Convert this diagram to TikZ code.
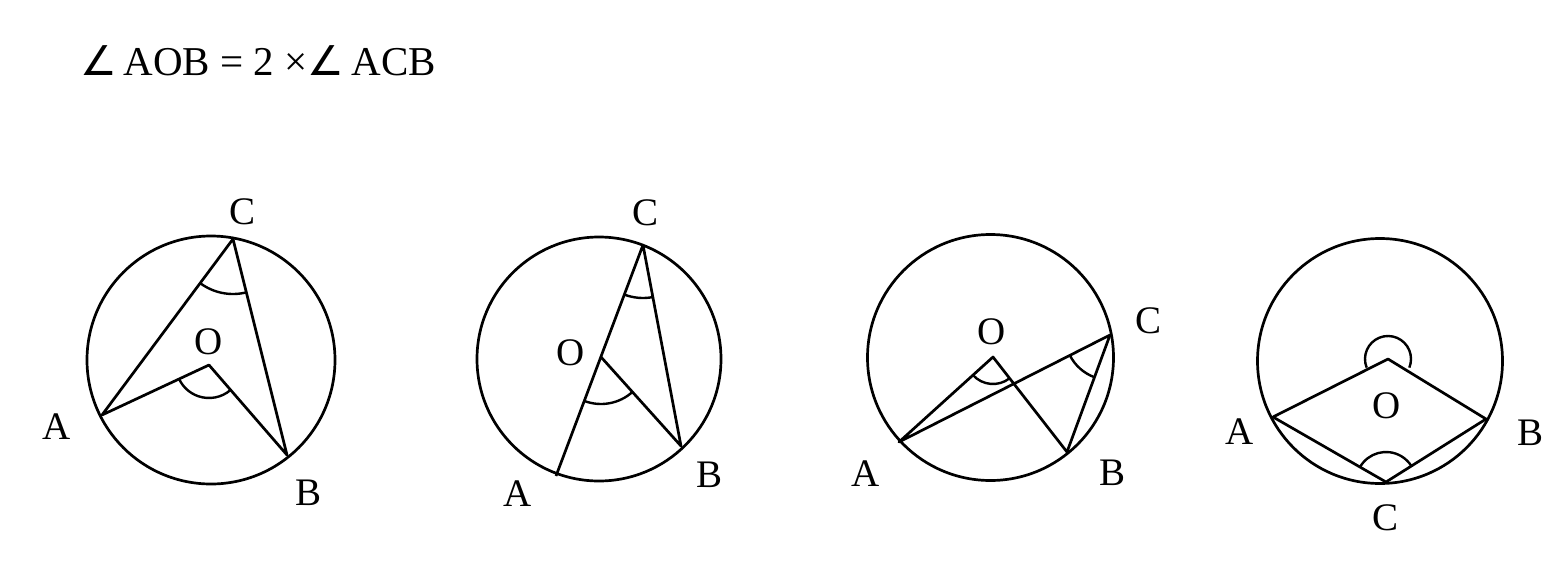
\documentclass[tikz,border=0pt]{standalone}
\usepackage{fontspec}
\setmainfont{Liberation Serif}
\newfontfamily\symfont{DejaVu Sans}
\begin{document}
\begin{tikzpicture}[x=1pt,y=-1pt,
  geo/.style={line width=2.7pt,line join=round},
  anglearc/.style={line width=2.4pt},
  lbl/.style={inner sep=0pt,font=\fontsize{39}{42}\selectfont}]
\useasboundingbox (0,0) rectangle (1567,563);
% title
\node[anchor=base west,inner sep=0pt,font=\fontsize{41}{45}\selectfont] (title) at (80,75)
  {{\symfont ∠}\,AOB = 2 ×{\symfont ∠}\,ACB};
% ---- figure 1
\coordinate (K1) at (211,360);
\coordinate (A1) at (102,415);
\coordinate (B1) at (287,455);
\coordinate (C1) at (233,239);
\coordinate (O1) at (209,365);
\draw[geo] (K1) circle[radius=124];
\draw[geo] (A1) -- (C1) -- (B1) -- (O1) -- cycle;
\draw[anglearc] ([shift={(76:55)}]C1) arc[start angle=76, end angle=126.7, radius=55];
\draw[anglearc] ([shift={(49.1:33)}]O1) arc[start angle=49.1, end angle=154.9, radius=33];
\node[lbl] (lC1) at (243,212) {C};
\node[lbl] (lO1) at (209,342) {O};
\node[lbl] (lA1) at (57,427) {A};
\node[lbl] (lB1) at (309,493) {B};
% ---- figure 2
\coordinate (K2) at (599,359);
\coordinate (A2) at (556,476);
\coordinate (B2) at (681,446);
\coordinate (C2) at (643,245);
\coordinate (O2) at (601,357);
\draw[geo] (K2) circle[radius=122];
\draw[geo] (A2) -- (C2) -- (B2) -- (O2);
\draw[anglearc] ([shift={(79.3:53)}]C2) arc[start angle=79.3, end angle=110.6, radius=53];
\draw[anglearc] ([shift={(48:47)}]O2) arc[start angle=48, end angle=110.7, radius=47];
\node[lbl] (lC2) at (645,213) {C};
\node[lbl] (lO2) at (571,353) {O};
\node[lbl] (lA2) at (518,494) {A};
\node[lbl] (lB2) at (709,475) {B};
% ---- figure 3
\coordinate (K3) at (990.5,357.5);
\coordinate (A3) at (899,442);
\coordinate (B3) at (1067,452);
\coordinate (C3) at (1110,335);
\coordinate (O3) at (993,357);
\draw[geo] (K3) circle[radius=123];
\draw[geo] (A3) -- (O3) -- (B3) -- (C3) -- cycle;
\draw[anglearc] ([shift={(52.1:27)}]O3) arc[start angle=52.1, end angle=137.9, radius=27];
\draw[anglearc] ([shift={(110.2:45)}]C3) arc[start angle=110.2, end angle=153.1, radius=45];
\node[lbl] (lO3) at (992,332) {O};
\node[lbl] (lC3) at (1148,321) {C};
\node[lbl] (lA3) at (866,474) {A};
\node[lbl] (lB3) at (1112,473) {B};
% ---- figure 4
\coordinate (K4) at (1380,361);
\coordinate (A4) at (1273,417);
\coordinate (B4) at (1486,419);
\coordinate (C4) at (1386,482);
\coordinate (O4) at (1388,359);
\draw[geo] (K4) circle[radius=122.5];
\draw[geo] (A4) -- (O4) -- (B4) -- (C4) -- cycle;
\draw[anglearc] ([shift={(158:23)}]O4) arc[start angle=158, end angle=382, radius=23];
\draw[anglearc] ([shift={(209.9:30)}]C4) arc[start angle=209.9, end angle=327.8, radius=30];
\node[lbl] (lO4) at (1387,406) {O};
\node[lbl] (lA4) at (1240,432) {A};
\node[lbl] (lB4) at (1530,433) {B};
\node[lbl] (lC4) at (1385,518) {C};
\end{tikzpicture}
\end{document}
